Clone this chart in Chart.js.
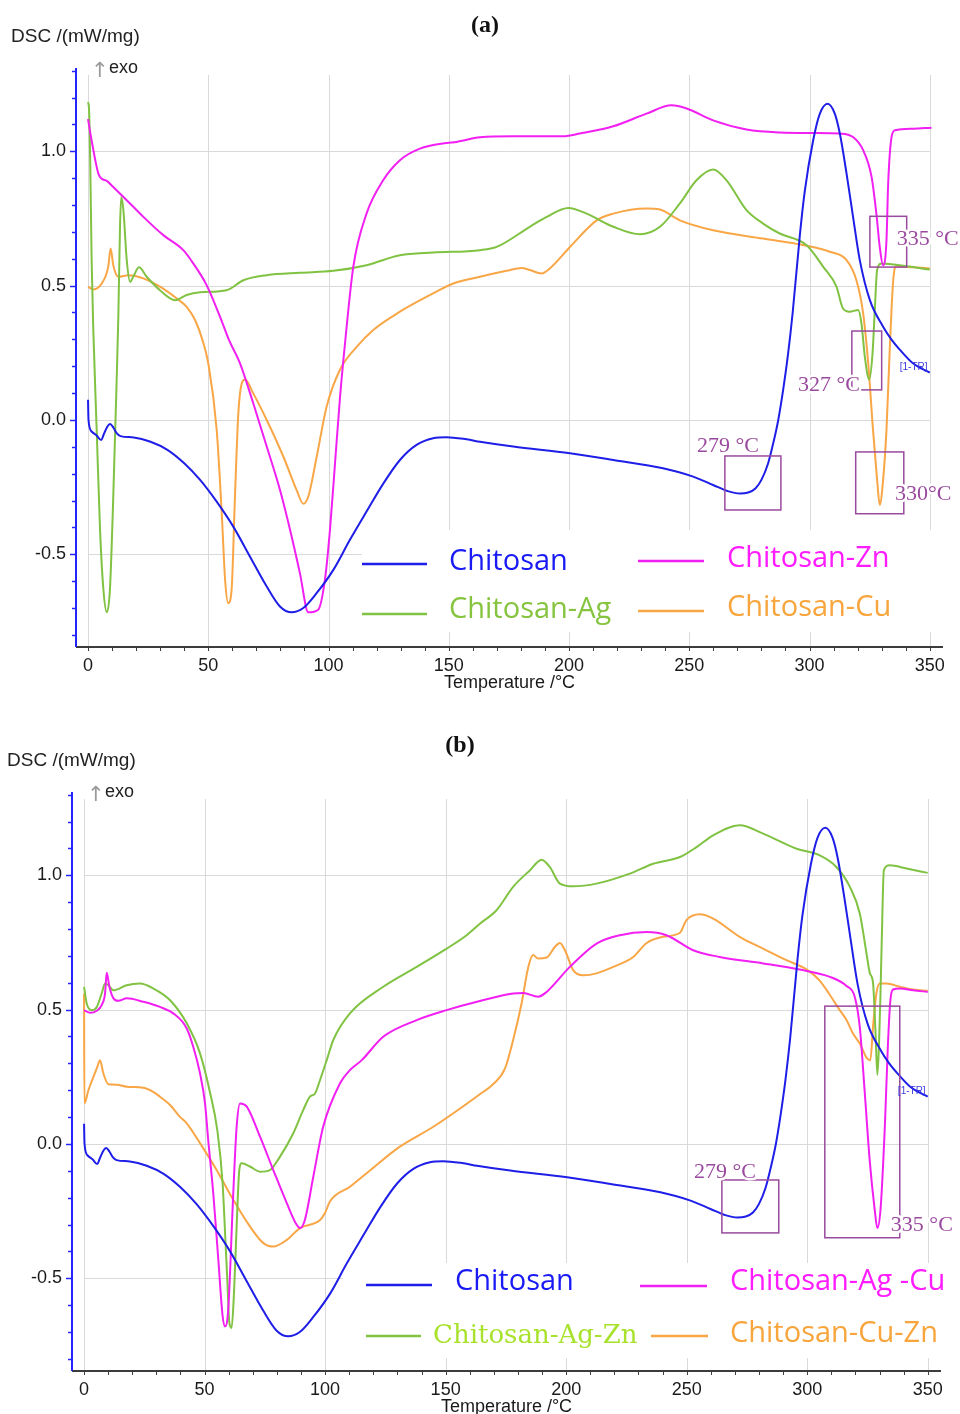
<!DOCTYPE html>
<html>
<head>
<meta charset="utf-8">
<script src="https://cdn.jsdelivr.net/npm/chart.js@4.4.1/dist/chart.umd.min.js"></script>
<style>
  html, body { margin: 0; padding: 0; background: #fff; }
  body { width: 960px; height: 1414px; position: relative; overflow: hidden; }
  canvas { position: absolute; }
  #chartA { left: 0; top: 0; }
  #chartB { left: -4px; top: 724px; }
</style>
</head>
<body>
<canvas id="chartA" width="960" height="700"></canvas>
<canvas id="chartB" width="960" height="700"></canvas>
<script>
// ---- data: [temperature °C, DSC mW/mg] ----
const chitosan = [[0,0.075],[0.2,0.0],[1.5,-0.043],[3.6,-0.058],[5.5,-0.075],[6.4,-0.057],[8,-0.025],[9.2,-0.015],[10.5,-0.028],[12,-0.05],[13.5,-0.06],[19,-0.065],[26,-0.081],[33,-0.111],[40,-0.161],[46.6,-0.223],[53.5,-0.304],[60.4,-0.397],[67.3,-0.508],[74.3,-0.62],[79.8,-0.694],[84.7,-0.716],[89.5,-0.70],[95.1,-0.644],[102,-0.558],[108.9,-0.446],[115.8,-0.341],[122.9,-0.235],[129.7,-0.149],[136.6,-0.093],[143.5,-0.068],[149,-0.064],[157.4,-0.072],[163,-0.081],[176.8,-0.099],[200.4,-0.124],[218.4,-0.149],[239.1,-0.18],[251.6,-0.211],[259.9,-0.242],[266,-0.265],[271,-0.274],[274.5,-0.27],[277.5,-0.255],[280,-0.223],[282.8,-0.161],[284.9,-0.087],[287,0],[289,0.11],[291,0.24],[293,0.40],[296,0.69],[298,0.85],[301.5,1.04],[304.3,1.14],[307.5,1.177],[310.5,1.14],[312.6,1.066],[315.4,0.917],[318.1,0.756],[320.9,0.595],[325.1,0.446],[330.6,0.347],[334,0.30],[337.5,0.262],[343,0.211],[350,0.176]];

const chitosanZn = [[0,1.12],[1.5,1.04],[4.3,0.917],[5.7,0.898],[7.8,0.89],[10.5,0.867],[16.1,0.818],[23,0.756],[31.3,0.688],[39.6,0.632],[43.8,0.582],[49.3,0.502],[54.9,0.384],[58.5,0.30],[63.2,0.211],[68.7,0.062],[74.3,-0.099],[79.8,-0.26],[84,-0.409],[88.1,-0.57],[91.6,-0.716],[95.7,-0.706],[98.5,-0.595],[100.6,-0.409],[102.7,-0.161],[104.8,0.087],[106.8,0.28],[110.3,0.57],[115.8,0.768],[122.7,0.892],[129.7,0.967],[138,1.01],[149.1,1.031],[153.2,1.035],[163,1.052],[176.8,1.056],[197.6,1.056],[204.5,1.066],[218.4,1.093],[232.2,1.14],[242.6,1.171],[248.9,1.159],[259.9,1.115],[273.8,1.081],[287.6,1.07],[301.5,1.068],[312.6,1.066],[318.1,1.053],[322.3,1.004],[325.8,0.905],[327.8,0.768],[329.2,0.644],[330.6,0.576],[332,0.669],[332.7,0.88],[334.1,1.053],[335.5,1.078],[343,1.084],[350.7,1.088]];

const chitosanAg = [[0,1.183],[0.4,1.16],[0.9,0.967],[1.5,0.595],[2.2,0.335],[3.6,-0.037],[5,-0.409],[6.4,-0.632],[7.8,-0.716],[9.1,-0.632],[10.5,-0.285],[11.9,0.149],[12.6,0.384],[13.3,0.719],[13.8,0.83],[14.7,0.781],[16.1,0.595],[17.5,0.514],[18.8,0.533],[21.2,0.568],[24.4,0.533],[29.9,0.483],[36.2,0.446],[41,0.465],[46.6,0.475],[57.6,0.483],[64.6,0.52],[74.3,0.539],[88.1,0.548],[102,0.555],[115.8,0.576],[129.7,0.613],[143.5,0.623],[163,0.632],[169.9,0.644],[183.7,0.719],[190.7,0.756],[199.7,0.789],[207.3,0.768],[218.4,0.719],[229.5,0.691],[237.8,0.719],[246.1,0.806],[253,0.892],[259.9,0.932],[265.5,0.892],[273.8,0.781],[280.7,0.731],[287.6,0.694],[298.7,0.651],[305.7,0.57],[311.2,0.496],[313.9,0.415],[316.7,0.403],[320.2,0.409],[321.6,0.359],[323,0.235],[324.8,0.151],[326.2,0.248],[327.2,0.421],[328.1,0.558],[329.9,0.582],[340.3,0.572],[350,0.56]];

const chitosanCu = [[0,0.496],[2.2,0.486],[5.7,0.508],[8.4,0.57],[9.4,0.638],[10.5,0.576],[12.6,0.533],[16.8,0.539],[23,0.527],[29.9,0.496],[36.9,0.452],[41,0.421],[44.5,0.372],[47.5,0.30],[50,0.211],[53.5,-0.037],[55.6,-0.347],[57,-0.595],[58.3,-0.682],[59.7,-0.632],[61.1,-0.285],[62.5,0.025],[63.9,0.136],[65.3,0.151],[68.7,0.099],[74.3,0],[81.2,-0.136],[86.7,-0.26],[89.5,-0.312],[91.6,-0.285],[95.1,-0.136],[99.2,0.049],[104.7,0.186],[111.7,0.272],[118.6,0.335],[129.7,0.403],[143.5,0.471],[151.9,0.508],[163,0.533],[174,0.555],[180.3,0.566],[183.7,0.558],[188.6,0.545],[192,0.564],[200.4,0.644],[211.5,0.743],[218.4,0.768],[232.2,0.787],[237.8,0.783],[246.1,0.743],[259.9,0.706],[280.7,0.675],[297.3,0.651],[308.4,0.626],[315.4,0.595],[319.5,0.52],[322.3,0.397],[324.4,0.211],[326.4,-0.037],[328.1,-0.223],[329.2,-0.316],[330.6,-0.223],[332,-0.037],[333.4,0.273],[334.8,0.52],[336.1,0.572],[343,0.568],[350,0.564]];

const chitosanAgCu = [[0,0.498],[2.5,0.488],[5.3,0.496],[7.3,0.517],[8.7,0.56],[9.4,0.637],[10.5,0.585],[12.2,0.542],[14.2,0.533],[17.7,0.542],[24.6,0.529],[31.5,0.51],[37,0.486],[42.6,0.43],[45.3,0.362],[48.1,0.263],[50.2,0.15],[51.5,0.015],[53.6,-0.183],[55.7,-0.431],[57.5,-0.642],[58.5,-0.679],[59.8,-0.617],[61.9,-0.183],[63.3,0.064],[64.7,0.151],[67.5,0.139],[73,0.027],[78.5,-0.097],[84.1,-0.22],[88.2,-0.301],[89.6,-0.313],[91.6,-0.283],[95.1,-0.122],[99.2,0.064],[106.2,0.226],[110.3,0.275],[115.2,0.312],[124.1,0.399],[138,0.461],[150.4,0.498],[164.2,0.532],[178,0.56],[182.2,0.562],[188.4,0.548],[191.9,0.566],[201.5,0.659],[212.6,0.746],[222.3,0.777],[233.4,0.789],[241.6,0.777],[252.7,0.721],[263.7,0.696],[281.7,0.672],[296.9,0.649],[309.4,0.622],[316.3,0.588],[319.7,0.548],[321.8,0.436],[323.9,0.188],[325.9,-0.059],[328,-0.245],[329.1,-0.313],[330.4,-0.245],[332.2,0.064],[333.5,0.374],[334.5,0.535],[335.6,0.575],[338.4,0.579],[343.9,0.572],[350,0.566]];

const chitosanAgZn = [[0,0.585],[1.1,0.523],[3.2,0.498],[5.3,0.51],[7.3,0.56],[8.7,0.597],[10.1,0.591],[12.2,0.572],[17.7,0.591],[23.2,0.597],[28.7,0.579],[35.7,0.535],[42.6,0.449],[48.1,0.337],[52.3,0.19],[55.3,0.05],[57.5,-0.15],[58.6,-0.35],[59.4,-0.5],[60.3,-0.667],[61.2,-0.685],[62.2,-0.555],[63.3,-0.307],[64.4,-0.097],[65.4,-0.072],[68.8,-0.084],[73,-0.103],[77.1,-0.097],[81.3,-0.047],[86.8,0.04],[90.9,0.126],[93.7,0.176],[95.8,0.188],[97.9,0.238],[100.6,0.31],[103.4,0.387],[110.3,0.486],[124.1,0.585],[138,0.659],[150.4,0.727],[158.7,0.777],[164.2,0.82],[171.1,0.87],[178,0.957],[185,1.019],[189.8,1.058],[193.2,1.031],[197.4,0.969],[202.9,0.959],[212.6,0.969],[226.4,1.006],[236.1,1.043],[247.2,1.068],[254.1,1.105],[261,1.149],[272,1.186],[281.7,1.155],[295.6,1.099],[305.2,1.074],[312.1,1.031],[317.7,0.957],[321.8,0.858],[324.6,0.709],[326,0.635],[327.3,0.6],[328.4,0.4],[329.1,0.257],[329.8,0.374],[330.4,0.56],[330.9,0.75],[331.8,1.019],[334.2,1.037],[341.2,1.025],[350,1.009]];

const chitosanCuZn = [[0,0.56],[0.15,0.151],[1.8,0.2],[3.9,0.25],[5.5,0.287],[6.6,0.312],[8,0.263],[10.1,0.222],[13.6,0.22],[17.7,0.213],[24.6,0.209],[28.7,0.194],[31.5,0.176],[35.7,0.145],[39.8,0.101],[42.6,0.077],[48.1,0.003],[55,-0.097],[61.9,-0.208],[68.8,-0.307],[74.4,-0.369],[78.5,-0.382],[84.1,-0.357],[89.6,-0.313],[97.9,-0.283],[99.9,-0.258],[102,-0.214],[110.3,-0.159],[117.2,-0.109],[131,-0.01],[144.9,0.064],[164.2,0.185],[170,0.225],[174.6,0.28],[178,0.387],[181.5,0.523],[184.3,0.659],[186.3,0.703],[188.4,0.69],[191.9,0.694],[195.3,0.733],[197.4,0.748],[199.5,0.721],[202.9,0.647],[207.1,0.628],[212.6,0.635],[219.5,0.659],[227.8,0.696],[233.4,0.748],[240.2,0.771],[247.2,0.786],[249.9,0.833],[255.5,0.855],[261,0.839],[272,0.771],[281.7,0.727],[291.4,0.684],[299.7,0.65],[305,0.61],[309,0.56],[313.5,0.498],[316.3,0.461],[319,0.411],[321.8,0.374],[324.8,0.319],[326.2,0.312],[327.3,0.436],[328.7,0.56],[330.1,0.597],[332.9,0.597],[338.4,0.585],[343.9,0.575],[350,0.57]];

// ---- axes ----
const X_MIN = -5, X_MAX = 355.5;
const Y_MIN = -0.845, Y_MAX = 1.31;
const xMajor = [0, 50, 100, 150, 200, 250, 300, 350];
const yMajor = [-0.5, 0, 0.5, 1.0];
const xMinor = Array.from({ length: 36 }, (_, i) => i * 10);          // 0..350
const yMinor = Array.from({ length: 22 }, (_, i) => (i - 8) / 10);    // -0.8..1.3

const BLUE = '#1e1ee8', MAGENTA = '#f21ff2', GREEN = '#80c242', ORANGE = '#f8a646', PURPLE = '#9a4a9e';
const SANS = '"Liberation Sans", Arial, sans-serif';
const LEG = '"Open Sans", "Noto Sans", sans-serif';
const SERIF = '"Liberation Serif", "Times New Roman", serif';

const isMajorY = v => yMajor.some(m => Math.abs(m - v) < 1e-9);

function line(ctx, x1, y1, x2, y2) {
  ctx.beginPath(); ctx.moveTo(x1, y1); ctx.lineTo(x2, y2); ctx.stroke();
}

const dscFrame = {
  id: 'dscFrame',
  beforeDatasetsDraw(chart, args, o) {
    const { ctx, chartArea: a, scales: { x, y } } = chart;
    ctx.save();
    // grid
    ctx.strokeStyle = '#d9d9d9'; ctx.lineWidth = 1;
    xMajor.forEach(v => {
      const px = Math.round(x.getPixelForValue(v)) + 0.5;
      line(ctx, px, a.top + 7, px, a.bottom);
    });
    yMajor.forEach(v => {
      const py = Math.round(y.getPixelForValue(v)) + 0.5;
      line(ctx, x.getPixelForValue(0), py, x.getPixelForValue(350), py);
    });
    // legend (white panel over grid)
    const [bx, by, bw, bh] = o.legendBox;
    ctx.fillStyle = '#fff';
    ctx.fillRect(bx, by, bw, bh);
    o.legend.forEach(it => {
      ctx.strokeStyle = it.color; ctx.lineWidth = 2.5;
      line(ctx, it.x1, it.ly, it.x2, it.ly);
      ctx.fillStyle = it.textColor || it.color;
      ctx.font = it.font || '29px ' + LEG;
      ctx.textAlign = 'left'; ctx.textBaseline = 'alphabetic';
      ctx.fillText(it.name, it.tx, it.ty);
    });
    ctx.restore();
  },
  afterDatasetsDraw(chart, args, o) {
    const { ctx, chartArea: a, scales: { x, y } } = chart;
    ctx.save();
    // x axis
    ctx.strokeStyle = '#3c3c3c'; ctx.lineWidth = 2;
    line(ctx, a.left, a.bottom, a.right, a.bottom);
    ctx.lineWidth = 1;
    xMinor.forEach(v => {
      const px = Math.round(x.getPixelForValue(v)) + 0.5;
      line(ctx, px, a.bottom, px, a.bottom + 4);
    });
    // y axis (blue)
    ctx.strokeStyle = '#2424ff'; ctx.lineWidth = 2;
    line(ctx, a.left, a.top, a.left, a.bottom);
    ctx.lineWidth = 1.5;
    yMinor.forEach(v => {
      const py = Math.round(y.getPixelForValue(v)) + 0.5;
      line(ctx, a.left - (isMajorY(v) ? 6 : 4), py, a.left, py);
    });
    // annotations
    o.notes.forEach(n => {
      const [x1, y1, x2, y2] = n.box;
      const px1 = x.getPixelForValue(x1), px2 = x.getPixelForValue(x2);
      const py1 = y.getPixelForValue(y1), py2 = y.getPixelForValue(y2);
      ctx.strokeStyle = PURPLE; ctx.lineWidth = 1.5;
      ctx.strokeRect(px1, py1, px2 - px1, py2 - py1);
    });
    o.notes.forEach(n => {
      ctx.font = '22px ' + SERIF;
      ctx.textAlign = n.align || 'left'; ctx.textBaseline = 'middle';
      const tx = x.getPixelForValue(n.tx), ty = y.getPixelForValue(n.ty);
      ctx.strokeStyle = '#fff'; ctx.lineWidth = 5; ctx.lineJoin = 'round';
      ctx.strokeText(n.text, tx, ty);
      ctx.fillStyle = PURPLE;
      ctx.fillText(n.text, tx, ty);
    });
    ctx.font = '10px ' + SANS; ctx.fillStyle = '#3a3ae0';
    ctx.textAlign = 'left'; ctx.textBaseline = 'middle';
    ctx.fillText('[1-TR]', x.getPixelForValue(o.tag[0]), y.getPixelForValue(o.tag[1]));
    // headers
    ctx.fillStyle = '#111';
    ctx.font = 'bold 24px ' + SERIF; ctx.textAlign = 'center';
    ctx.fillText(o.title, o.titleX, o.titleY);
    ctx.textAlign = 'left'; ctx.textBaseline = 'alphabetic';
    ctx.font = '19px ' + SANS; ctx.fillStyle = '#222';
    ctx.fillText('DSC /(mW/mg)', 11, 42);
    ctx.font = '21px "DejaVu Sans", sans-serif';
    ctx.fillStyle = '#9a9a9a'; ctx.fillText('↑', 91, 77);
    ctx.font = '18px ' + SANS;
    ctx.fillStyle = '#222'; ctx.fillText('exo', 109, 73);
    ctx.restore();
  }
};

function series(label, pts, color) {
  return {
    label, borderColor: color, borderWidth: 2, pointRadius: 0, fill: false,
    cubicInterpolationMode: 'monotone',
    data: pts.map(([t, v]) => ({ x: t, y: v }))
  };
}

function makePanel(p) {
  return new Chart(document.getElementById(p.canvas), {
    type: 'line',
    data: { datasets: p.series.map(s => series(...s)) },
    options: {
      responsive: false, animation: false, devicePixelRatio: 1,
      layout: { padding: { top: 68, right: p.padRight, bottom: 0, left: 0 } },
      plugins: {
        legend: { display: false }, tooltip: { enabled: false },
        dscFrame: p
      },
      scales: {
        x: {
          type: 'linear', min: X_MIN, max: X_MAX,
          afterBuildTicks: s => { s.ticks = xMinor.map(v => ({ value: v })); },
          afterFit: s => { s.height = 53; },
          grid: { display: false, drawTicks: false }, border: { display: false },
          ticks: {
            autoSkip: false, maxRotation: 0, padding: 8, color: '#1a1a1a',
            font: { family: SANS, size: 18 },
            callback: v => xMajor.includes(v) ? String(v) : ''
          },
          title: {
            display: true, text: 'Temperature /°C', color: '#1a1a1a',
            font: { family: SANS, size: 18 }, padding: { top: 0, bottom: 6 }
          }
        },
        y: {
          type: 'linear', min: Y_MIN, max: Y_MAX,
          afterBuildTicks: s => { s.ticks = yMinor.map(v => ({ value: v })); },
          afterFit: s => { s.width = 76; },
          grid: { display: false, drawTicks: false }, border: { display: false },
          ticks: {
            autoSkip: false, padding: 10, color: '#1a1a1a',
            font: { family: SANS, size: 18 },
            callback: v => isMajorY(v) ? v.toFixed(1) : ''
          }
        }
      }
    },
    plugins: [dscFrame]
  });
}

makePanel({
  canvas: 'chartA', title: '(a)', titleX: 485, titleY: 26, padRight: 17,
  series: [
    ['Chitosan', chitosan, BLUE],
    ['Chitosan-Zn', chitosanZn, MAGENTA],
    ['Chitosan-Ag', chitosanAg, GREEN],
    ['Chitosan-Cu', chitosanCu, ORANGE]
  ],
  legendBox: [362, 530, 583, 102],
  legend: [
    { name: 'Chitosan', color: BLUE, textColor: '#1a1af5', x1: 362, x2: 427, ly: 564, tx: 449, ty: 570 },
    { name: 'Chitosan-Zn', color: MAGENTA, textColor: '#ff1cff', x1: 638, x2: 704, ly: 561, tx: 727, ty: 567 },
    { name: 'Chitosan-Ag', color: GREEN, textColor: '#86c440', x1: 362, x2: 427, ly: 614, tx: 449, ty: 618 },
    { name: 'Chitosan-Cu', color: ORANGE, textColor: '#f7a53c', x1: 638, x2: 704, ly: 611, tx: 727, ty: 616 }
  ],
  notes: [
    { text: '279 °C', tx: 253.2, ty: -0.097, box: [264.8, -0.134, 288.1, -0.335] },
    { text: '327 °C', tx: 321, ty: 0.130, align: 'right', box: [317.6, 0.331, 330.0, 0.112] },
    { text: '335 °C', tx: 336.3, ty: 0.673, box: [325.1, 0.758, 340.4, 0.569] },
    { text: '330°C', tx: 335.5, ty: -0.275, box: [319.2, -0.119, 339.2, -0.349] }
  ],
  tag: [337.5, 0.197]
});

makePanel({
  canvas: 'chartB', title: '(b)', titleX: 464, titleY: 22, padRight: 15,
  series: [
    ['Chitosan', chitosan, BLUE],
    ['Chitosan-Ag -Cu', chitosanAgCu, MAGENTA],
    ['Chitosan-Ag-Zn', chitosanAgZn, GREEN],
    ['Chitosan-Cu-Zn', chitosanCuZn, ORANGE]
  ],
  legendBox: [347, 539, 598, 95],
  legend: [
    { name: 'Chitosan', color: BLUE, textColor: '#1a1af5', x1: 370, x2: 436, ly: 561, tx: 459, ty: 566 },
    { name: 'Chitosan-Ag -Cu', color: MAGENTA, textColor: '#ff1cff', x1: 644, x2: 711, ly: 562, tx: 734, ty: 566 },
    { name: 'Chitosan-Ag-Zn', color: GREEN, textColor: '#a8e22c', x1: 370, x2: 425, ly: 612, tx: 437, ty: 619, font: '26px "DejaVu Serif", serif' },
    { name: 'Chitosan-Cu-Zn', color: ORANGE, textColor: '#f7a53c', x1: 655, x2: 712, ly: 612, tx: 734, ty: 618 }
  ],
  notes: [
    { text: '279 °C', tx: 253.0, ty: -0.106, box: [264.6, -0.134, 288.2, -0.331] },
    { text: '335 °C', tx: 334.7, ty: -0.301, box: [307.3, 0.513, 338.4, -0.349] }
  ],
  tag: [337.6, 0.197]
});
</script>
</body>
</html>
